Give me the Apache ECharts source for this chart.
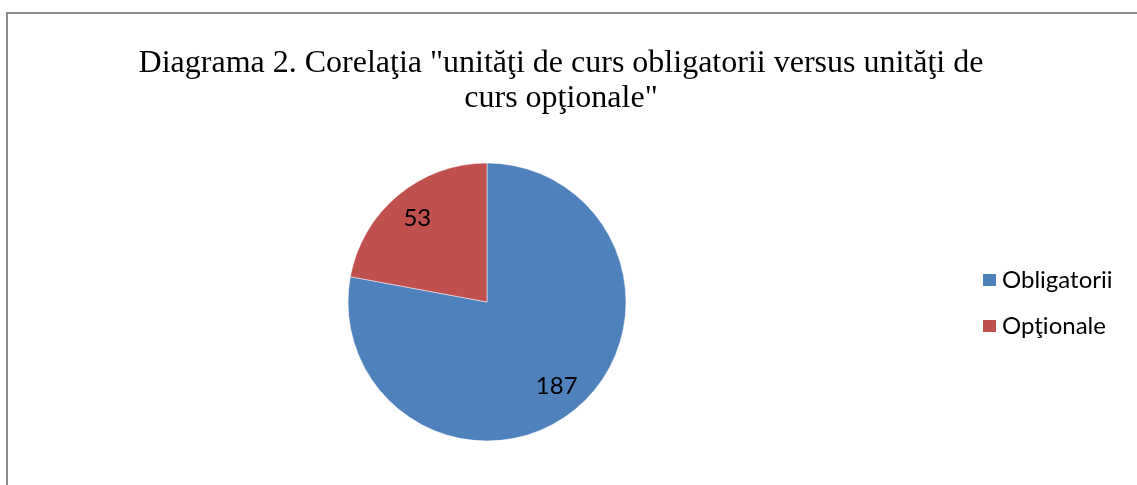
<!DOCTYPE html>
<html>
<head>
<meta charset="utf-8">
<script src="https://cdn.jsdelivr.net/npm/echarts@6/dist/echarts.min.js"></script>
<style>html,body{margin:0;padding:0;background:#fff;}#c{width:1137px;height:485px;}</style>
</head>
<body>
<div id="c"></div>
<script>
const categories = ['Obligatorii', 'Opţionale'];
const values = [187, 53];
const colors = ['#4F81BD', '#C0504D'];
const titleText = 'Diagrama 2. Corelaţia "unităţi de curs obligatorii versus unităţi de\ncurs opţionale"';

const chart = echarts.init(document.getElementById('c'), null, {renderer: 'canvas'});
const data = categories.map((n, i) => ({name: n, value: values[i], itemStyle: {color: colors[i]}}));
chart.setOption({
  animation: false,
  backgroundColor: '#fff',
  title: {
    text: titleText,
    left: 556, top: 41, textAlign: 'center',
    textStyle: {fontFamily: 'Liberation Serif', fontSize: 32, fontWeight: 'normal', color: '#000', lineHeight: 35}
  },
  graphic: [{
    type: 'rect', shape: {x: 7, y: 13, width: 1300, height: 700},
    style: {fill: 'none', stroke: '#8c8c8c', lineWidth: 2}, silent: true, z: -1
  }],
  legend: {
    orient: 'vertical', left: 981, top: 268, padding: 0, itemWidth: 15, itemHeight: 14, itemGap: 22,
    icon: 'rect', data: categories,
    textStyle: {fontFamily: 'Lato', fontSize: 24, lineHeight: 24, color: '#000'}
  },
  series: [{
    type: 'pie', center: [487, 302], radius: [0, 139], startAngle: 90, clockwise: true,
    label: {show: false}, labelLine: {show: false},
    itemStyle: {borderColor: '#fff', borderWidth: 0.5},
    emphasis: {disabled: true},
    data: data
  }, {
    type: 'pie', center: [487, 302], radius: [73, 139], startAngle: 90, clockwise: true,
    silent: true, legendHoverLink: false,
    itemStyle: {color: 'rgba(0,0,0,0)'},
    label: {show: true, position: 'inside', formatter: '{c}', fontFamily: 'Lato', fontSize: 24, color: '#000'},
    labelLine: {show: false},
    emphasis: {disabled: true},
    data: categories.map((n, i) => ({name: n, value: values[i], itemStyle: {color: 'rgba(0,0,0,0)'}}))
  }]
});
</script>
</body>
</html>
